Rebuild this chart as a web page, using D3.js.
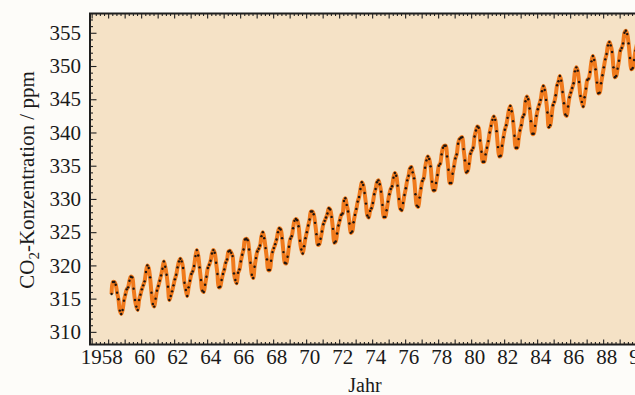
<!DOCTYPE html>
<html>
<head>
<meta charset="utf-8">
<script src="https://cdn.jsdelivr.net/npm/d3@7"></script>
<style>
  body { margin: 0; background: #fdfcf9; }
  svg { display: block; }
</style>
</head>
<body>
<div id="chart"></div>
<script>
// monthly CO2 (ppm), Mauna Loa style record
// first array starts March 1958, the others start in January
const co2_1958_1969 = [
  315.7, 317.5, 317.5, 317.1, 315.9, 314.9, 313.2, 312.7, 313.3, 314.7,
  315.6, 316.4, 316.7, 317.7, 318.3, 318.2, 316.5, 314.8, 313.8, 313.3, 314.8, 315.6,
  316.4, 317.0, 317.6, 319.0, 320.0, 319.6, 318.2, 315.9, 314.2, 313.8, 315.0, 316.2,
  316.9, 317.7, 318.5, 319.5, 320.6, 319.8, 318.6, 316.8, 314.8, 315.4, 316.1, 317.0,
  317.9, 318.6, 319.7, 320.6, 321.0, 320.6, 319.6, 317.4, 316.3, 315.4, 316.7, 317.7,
  318.7, 319.1, 319.9, 321.4, 322.3, 321.5, 319.7, 317.8, 316.2, 316.0, 317.1, 318.3,
  319.6, 320.1, 320.7, 321.8, 322.3, 321.9, 320.4, 318.7, 316.7, 316.8, 317.8, 318.7,
  319.4, 320.4, 320.9, 322.1, 322.2, 321.9, 321.4, 318.8, 317.8, 317.3, 318.9, 319.4,
  320.6, 321.6, 322.4, 323.9, 324.0, 323.8, 322.4, 320.4, 318.6, 318.1, 319.8, 321.1,
  322.1, 322.5, 323.0, 324.4, 325.0, 324.1, 322.6, 320.9, 319.3, 319.3, 320.7, 322.0,
  322.6, 323.2, 323.9, 325.0, 325.6, 325.4, 324.1, 322.0, 320.4, 320.3, 321.3, 322.8,
  324.0, 324.4, 325.6, 326.7, 327.0, 326.8, 325.9, 323.7, 322.4, 321.8, 322.9, 324.1
];
const co2_1970_1979 = [
  325.0, 326.0, 326.9, 328.1, 328.1, 327.7, 326.4, 324.7, 323.1, 323.2, 324.0, 325.1,
  326.2, 326.7, 327.2, 327.8, 328.6, 328.4, 327.3, 325.5, 323.4, 323.6, 324.8, 326.0,
  326.8, 327.6, 327.8, 329.7, 330.1, 329.1, 328.1, 326.3, 324.9, 325.1, 326.5, 327.6,
  328.5, 329.6, 330.3, 331.5, 332.5, 332.1, 330.9, 329.3, 327.5, 327.2, 328.2, 328.6,
  329.4, 330.7, 331.5, 332.5, 332.8, 332.2, 331.1, 329.1, 327.3, 327.3, 328.3, 329.6,
  330.7, 331.5, 331.9, 333.2, 333.9, 333.5, 332.0, 330.0, 328.5, 328.3, 329.4, 330.6,
  331.6, 332.8, 333.5, 334.6, 334.8, 334.0, 333.1, 330.7, 329.0, 328.8, 330.2, 331.6,
  332.7, 333.1, 334.7, 335.8, 336.4, 336.0, 334.9, 332.6, 331.3, 331.3, 332.4, 333.6,
  335.0, 335.3, 336.7, 337.7, 338.0, 338.0, 336.4, 334.4, 332.4, 332.4, 333.8, 334.9,
  336.1, 336.7, 338.3, 339.0, 339.2, 339.3, 337.5, 335.8, 334.0, 334.2, 335.3, 336.8
];
const co2_1980_1990 = [
  337.3, 337.7, 339.4, 340.3, 340.9, 340.7, 338.8, 337.1, 335.6, 335.6, 336.7, 337.7,
  338.7, 340.0, 341.0, 341.9, 342.4, 341.9, 340.2, 337.8, 336.4, 336.5, 338.0, 339.3,
  340.4, 341.1, 342.2, 343.4, 344.0, 343.2, 341.7, 339.5, 337.7, 337.7, 339.0, 340.3,
  341.1, 342.3, 342.7, 344.7, 345.4, 345.0, 343.6, 341.7, 339.8, 339.8, 341.0, 342.5,
  343.5, 344.2, 344.9, 346.2, 347.0, 346.4, 344.9, 343.0, 340.8, 341.1, 342.5, 344.1,
  344.6, 345.6, 347.1, 347.7, 348.5, 347.8, 346.1, 344.4, 342.7, 342.5, 343.9, 345.3,
  346.0, 346.7, 347.4, 349.2, 349.8, 349.3, 347.6, 345.5, 344.6, 343.9, 345.3, 346.6,
  347.9, 348.1, 349.1, 350.7, 351.5, 350.9, 349.5, 347.5, 345.9, 346.0, 347.4, 348.6,
  349.8, 351.0, 351.8, 353.1, 353.6, 353.1, 352.1, 349.8, 348.3, 348.5, 349.6, 350.8,
  352.3, 352.7, 353.4, 355.0, 355.3, 354.8, 353.4, 351.2, 349.5, 349.7, 350.9, 352.3,
  353.2, 354.4, 355.1
];

const yTickLabels = [310, 315, 320, 325, 330, 335, 340, 345, 350, 355];
const xLabelYears = d3.range(1958, 1992, 2);

const width = 635;
const height = 395;
const frame = { left: 90, top: 13.5, bottom: 344.5 };
const serif = "'Liberation Serif', 'DejaVu Serif', serif";

// year of mid-month for each reading
function toSeries(values, year, month) {
  return values.map((v, i) => ({ t: year + (month - 1 + i + 0.5) / 12, v }));
}
const data = [
  ...toSeries(co2_1958_1969, 1958, 3),
  ...toSeries(co2_1970_1979, 1970, 1),
  ...toSeries(co2_1980_1990, 1980, 1),
];

const x = d3.scaleLinear([1956.9, 1991.3], [frame.left, frame.left + 34.4 * 16.5]);
const y = d3.scaleLinear([308.1, 357.9], [frame.bottom, frame.top]);

const svg = d3
  .select("#chart")
  .append("svg")
  .attr("width", width)
  .attr("height", height)
  .style("font-family", serif);

const right = x.range()[1];

svg
  .append("rect")
  .attr("x", frame.left)
  .attr("y", frame.top)
  .attr("width", right - frame.left)
  .attr("height", frame.bottom - frame.top)
  .attr("fill", "#f5e2c6");

// curve + monthly dots
const line = d3
  .line()
  .x((d) => x(d.t))
  .y((d) => y(d.v))
  .curve(d3.curveCatmullRom);

svg
  .append("path")
  .datum(data)
  .attr("fill", "none")
  .attr("stroke", "#f07a1c")
  .attr("stroke-width", 4)
  .attr("stroke-linejoin", "round")
  .attr("d", line);

svg
  .append("g")
  .selectAll("circle")
  .data(data)
  .join("circle")
  .attr("cx", (d) => x(d.t))
  .attr("cy", (d) => y(d.v))
  .attr("r", 1.2)
  .attr("fill", "#1c1410");

// ticks point inward on every side
const quarterTicks = d3.range(1957, 1991.3, 0.25).filter((t) => t % 1 !== 0);
const yearTicks = d3.range(1957, 1992);
const minorY = d3.range(309, 358).filter((v) => v % 5 !== 0);

function styleAxis(g) {
  g.attr("font-family", serif).attr("font-size", 21);
  g.select(".domain").remove();
  g.selectAll(".tick line").attr("stroke", "#222").attr("stroke-width", 1.1);
  g.selectAll("text").attr("fill", "#1a1a1a");
}

svg.append("g")
  .attr("transform", `translate(0,${frame.bottom})`)
  .call(d3.axisBottom(x).tickValues(quarterTicks).tickSize(-2.5).tickFormat(""))
  .call(styleAxis);
svg.append("g")
  .attr("transform", `translate(0,${frame.bottom})`)
  .call(d3.axisBottom(x).tickValues(yearTicks).tickSize(-5).tickFormat(""))
  .call(styleAxis);
svg.append("g")
  .attr("transform", `translate(0,${frame.top})`)
  .call(d3.axisTop(x).tickValues(quarterTicks).tickSize(-2.5).tickFormat(""))
  .call(styleAxis);
svg.append("g")
  .attr("transform", `translate(0,${frame.top})`)
  .call(d3.axisTop(x).tickValues(yearTicks).tickSize(-5).tickFormat(""))
  .call(styleAxis);

// year labels
svg.append("g")
  .attr("transform", `translate(0,${frame.bottom})`)
  .call(
    d3.axisBottom(x)
      .tickValues(xLabelYears)
      .tickSize(0)
      .tickPadding(5)
      .tickFormat((d) => (d === 1958 ? "1958" : String(d % 100)))
  )
  .call(styleAxis)
  .call((g) => g.selectAll("text").attr("dx", (d) => (d === 1958 ? -7 : 3)));

svg.append("g")
  .attr("transform", `translate(${frame.left},0)`)
  .call(d3.axisLeft(y).tickValues(minorY).tickSize(-3).tickFormat(""))
  .call(styleAxis);
svg.append("g")
  .attr("transform", `translate(${frame.left},0)`)
  .call(d3.axisLeft(y).tickValues(yTickLabels).tickSize(-6.5).tickFormat(d3.format("d")))
  .call(styleAxis)
  .call((g) => g.selectAll("text").attr("x", -9));

// frame
svg
  .append("path")
  .attr("fill", "none")
  .attr("stroke", "#1e1e1e")
  .attr("stroke-width", 2)
  .attr("d", `M${right},${frame.top}H${frame.left}V${frame.bottom}H${right}`);

// axis titles
const yTitle = svg
  .append("text")
  .attr("transform", `translate(34,${180}) rotate(-90)`)
  .attr("text-anchor", "middle")
  .attr("font-size", 21)
  .attr("fill", "#1a1a1a");
yTitle.append("tspan").text("CO");
yTitle.append("tspan").attr("font-size", 15).attr("dy", 5).text("2");
yTitle.append("tspan").attr("dy", -5).text("-Konzentration / ppm");

svg
  .append("text")
  .attr("x", 365)
  .attr("y", 392)
  .attr("text-anchor", "middle")
  .attr("font-size", 20)
  .attr("fill", "#1a1a1a")
  .text("Jahr");
</script>
</body>
</html>
